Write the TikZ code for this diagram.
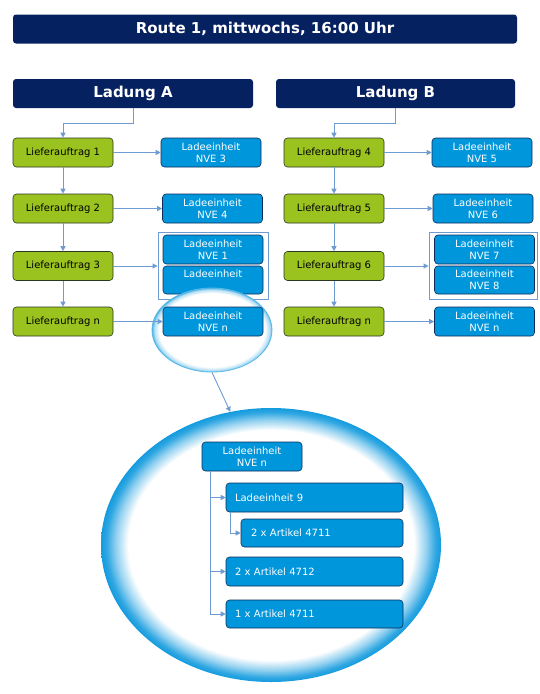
\documentclass[tikz,border=0pt]{standalone}
\usepackage{fontspec}
\setmainfont{DejaVu Sans}
\usetikzlibrary{shapes.geometric,arrows.meta}
\definecolor{navy}{RGB}{6,33,96}
\definecolor{lgreen}{RGB}{155,195,31}
\definecolor{gborder}{RGB}{40,55,30}
\definecolor{lblue}{RGB}{0,150,219}
\definecolor{bborder}{RGB}{12,45,90}
\definecolor{conn}{RGB}{110,155,210}
\definecolor{rim}{RGB}{20,155,222}
\pgfdeclareradialshading{glowbig}{\pgfpoint{0bp}{0bp}}{color(0bp)=(white); color(21bp)=(white); color(22.8bp)=(rim!45!white); color(24.2bp)=(rim!88!white); color(25bp)=(rim); color(50bp)=(rim)}
\pgfdeclareradialshading{glowsmall}{\pgfpoint{0bp}{0bp}}{color(0bp)=(white); color(22bp)=(white); color(24.2bp)=(rim!35!white); color(25bp)=(rim!80!white); color(50bp)=(rim)}
\tikzset{
  hdr/.style={fill=navy, draw=none, rounded corners=3pt, text=white, font=\fontsize{15}{18}\selectfont\bfseries, inner sep=0pt, minimum height=29pt},
  gbox/.style={fill=lgreen, draw=gborder, line width=0.6pt, rounded corners=3.5pt, text=black, font=\fontsize{10}{12}\selectfont, inner sep=0pt, minimum width=100pt, minimum height=29pt, align=center},
  bbox/.style={fill=lblue, draw=bborder, line width=0.6pt, rounded corners=3.5pt, text=white, font=\fontsize{10}{12}\selectfont, inner sep=0pt, minimum width=100pt, minimum height=29pt, align=center},
  lbox/.style={fill=lblue, draw=bborder, line width=0.6pt, rounded corners=3.5pt, text=white, font=\fontsize{10}{12}\selectfont, inner ysep=0pt, inner xsep=9pt, minimum height=29pt, align=left},
  grp/.style={draw=conn, line width=0.9pt, fill=none, inner sep=0pt},
  cn/.style={draw=conn, line width=0.9pt, -{Triangle[length=5pt,width=5pt]}},
}
\begin{document}
\begin{tikzpicture}[x=1pt,y=-1pt]
\useasboundingbox (0,0) rectangle (540,694);
% headers
\node[hdr, minimum width=504pt] (title) at (265,29) {Route 1, mittwochs, 16:00 Uhr};
\node[hdr, minimum width=240pt] (ladA) at (133,93.5) {Ladung A};
\node[hdr, minimum width=239pt] (ladB) at (395.5,93.5) {Ladung B};
% left column
\node[gbox] (g1) at (63,152.5) {Lieferauftrag 1};
\node[gbox] (g2) at (63,208.5) {Lieferauftrag 2};
\node[gbox] (g3) at (63,266) {Lieferauftrag 3};
\node[gbox] (g4) at (63,321.5) {Lieferauftrag n};
\node[bbox] (b3) at (211,152.5) {Ladeeinheit\\NVE 3};
\node[bbox] (b4) at (212.5,208.5) {Ladeeinheit\\NVE 4};
\node[grp, minimum width=110pt, minimum height=67pt] (frA) at (213,265.5) {};
\node[bbox] (b1) at (213,249.5) {Ladeeinheit\\NVE 1};
\node[bbox, minimum height=28pt] (b2) at (213,280) {Ladeeinheit\\\mbox{}};
% small magnifier ellipse
\node[ellipse, inner sep=0pt, minimum width=120pt, minimum height=84pt, shading=glowsmall, draw=rim!70!white, line width=0.8pt] (se) at (212,330) {};
\node[bbox] (bn) at (213,321.5) {Ladeeinheit\\NVE n};
% right column
\node[gbox] (h1) at (334,152.5) {Lieferauftrag 4};
\node[gbox] (h2) at (334,208.5) {Lieferauftrag 5};
\node[gbox] (h3) at (334,266) {Lieferauftrag 6};
\node[gbox] (h4) at (334,321.5) {Lieferauftrag n};
\node[bbox] (c5) at (482,152.5) {Ladeeinheit\\NVE 5};
\node[bbox] (c6) at (483,208.5) {Ladeeinheit\\NVE 6};
\node[grp, minimum width=108pt, minimum height=67pt] (frB) at (483,265.5) {};
\node[bbox] (c7) at (484.5,249.5) {Ladeeinheit\\NVE 7};
\node[bbox, minimum height=28pt] (c8) at (484.5,280) {Ladeeinheit\\NVE 8};
\node[bbox] (cn) at (484.5,321.5) {Ladeeinheit\\NVE n};
% connectors left
\draw[cn] (ladA.south) -- ++(0,15) -| (g1.north);
\draw[cn] (g1.south) -- (g2.north);
\draw[cn] (g2.south) -- (g3.north);
\draw[cn] (g3.south) -- (g4.north);
\draw[cn] (g1.east) -- (b3.west);
\draw[cn] (g2.east) -- (b4.west);
\draw[cn] (g3.east) -- (g3.east -| frA.west);
\draw[cn] (g4.east) -- (bn.west);
% connectors right
\draw[cn] (ladB.south) -- ++(0,15) -| (h1.north);
\draw[cn] (h1.south) -- (h2.north);
\draw[cn] (h2.south) -- (h3.north);
\draw[cn] (h3.south) -- (h4.north);
\draw[cn] (h1.east) -- (c5.west);
\draw[cn] (h2.east) -- (c6.west);
\draw[cn] (h3.east) -- (h3.east -| frB.west);
\draw[cn] (h4.east) -- (cn.west);
% big ellipse
\node[ellipse, inner sep=0pt, minimum width=340pt, minimum height=274pt, shading=glowbig] (be) at (271,545) {};
\draw[cn] (se.south) -- (be.107);
% inner tree
\node[bbox] (iN) at (252,456.5) {Ladeeinheit\\NVE n};
\node[lbox, text width=159pt] (i9) at (314.5,497.5) {Ladeeinheit 9};
\node[lbox, text width=142pt, inner xsep=10pt, minimum height=28pt] (ia1) at (322,533) {2 x Artikel 4711};
\node[lbox, text width=159pt] (ia2) at (314.5,571.5) {2 x Artikel 4712};
\node[lbox, text width=159pt, minimum height=28pt] (ia3) at (314.5,614) {1 x Artikel 4711};
\coordinate (t0) at (210,471);
\coordinate (t1) at (230,512);
\draw[cn] (t0) |- (i9.west);
\draw[cn] (t0) |- (ia2.west);
\draw[cn] (t0) |- (ia3.west);
\draw[cn] (t1) |- (ia1.west);
\end{tikzpicture}
\end{document}
